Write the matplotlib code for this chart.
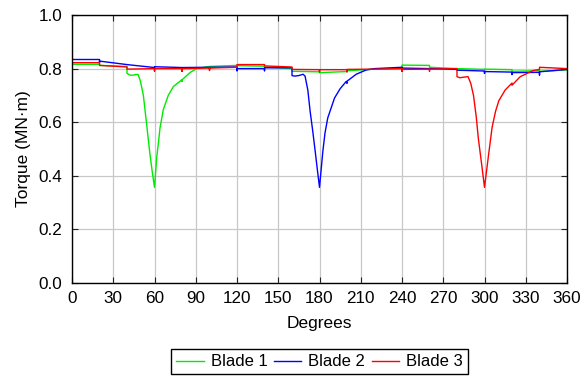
import matplotlib
matplotlib.use("Agg")
import matplotlib.pyplot as plt

plt.rcParams['font.family'] = ['Liberation Sans', 'DejaVu Sans']

# Blade torque over one rotor revolution (degrees, MN·m)
blade1_deg = [0, 20, 20, 40, 40, 42, 44, 46, 48, 49.5, 50.5, 51.9, 53, 54.3, 55.5, 56.7, 58.6, 60,
              61.6, 63, 64, 66.4, 70, 73.7, 79.8, 80, 80, 86, 90.7, 98, 100, 120, 120, 140, 140,
              160, 160, 180, 180, 200, 200, 220, 240, 240, 260, 260, 280, 300, 300, 320, 320, 340, 340, 360]
blade1_val = [0.816, 0.816, 0.812, 0.808, 0.782, 0.776, 0.775, 0.778, 0.778, 0.758, 0.735, 0.70, 0.65, 0.591, 0.535, 0.48, 0.406, 0.357,
              0.469, 0.53, 0.579, 0.647, 0.70, 0.733, 0.758, 0.752, 0.758, 0.786, 0.80, 0.807, 0.808, 0.812, 0.811, 0.809, 0.806,
              0.80, 0.79, 0.788, 0.785, 0.789, 0.792, 0.798, 0.80, 0.813, 0.812, 0.805, 0.80, 0.797, 0.798, 0.796, 0.79, 0.792, 0.790, 0.795]

blade2_deg = [0, 20, 20, 20, 40, 60, 60, 80, 100, 120, 120, 120, 140, 140, 140, 160, 160, 162, 165, 168,
              169.5, 171.5, 173.2, 175, 176.9, 178.5, 180, 182.4, 184, 186, 190.9, 195, 199.4, 200, 200,
              206.7, 214, 220, 240, 240, 260, 280, 280, 300, 300, 300, 320, 320, 320, 340, 340, 340, 360]
blade2_val = [0.834, 0.834, 0.822, 0.828, 0.815, 0.804, 0.807, 0.804, 0.805, 0.806, 0.792, 0.80, 0.80, 0.792, 0.803, 0.803, 0.774, 0.772, 0.774, 0.779,
              0.772, 0.72, 0.64, 0.57, 0.49, 0.42, 0.357, 0.49, 0.56, 0.616, 0.69, 0.725, 0.752, 0.745, 0.753,
              0.779, 0.795, 0.80, 0.805, 0.802, 0.80, 0.797, 0.794, 0.791, 0.782, 0.789, 0.787, 0.778, 0.785, 0.786, 0.776, 0.788, 0.797]

blade3_deg = [0, 20, 20, 40, 40, 60, 60, 60, 80, 80, 80, 100, 100, 100, 120, 120, 140, 140, 160, 160,
              180, 180, 180, 200, 200, 200, 220, 240, 240, 240, 260, 260, 260, 280, 280, 282, 285, 288,
              290, 292, 294, 295.5, 298, 300, 303, 305.5, 308, 310.4, 315, 320, 320, 326, 335.5, 340, 340, 360]
blade3_val = [0.822, 0.822, 0.812, 0.806, 0.798, 0.80, 0.79, 0.80, 0.80, 0.79, 0.80, 0.802, 0.793, 0.802, 0.805, 0.815, 0.815, 0.81, 0.806, 0.797,
              0.796, 0.788, 0.796, 0.796, 0.788, 0.797, 0.798, 0.80, 0.79, 0.797, 0.798, 0.79, 0.798, 0.80, 0.77, 0.766, 0.768, 0.77,
              0.745, 0.70, 0.62, 0.54, 0.44, 0.357, 0.48, 0.58, 0.64, 0.68, 0.72, 0.746, 0.738, 0.77, 0.793, 0.797, 0.805, 0.80]

x_ticks = list(range(0, 361, 30))
y_ticks = [0.0, 0.2, 0.4, 0.6, 0.8, 1.0]

fig = plt.figure(figsize=(5.84, 3.77), dpi=100)
ax = fig.add_axes([0.1233, 0.2493, 0.8476, 0.7109])

ax.plot(blade1_deg, blade1_val, color=(0, 0.92, 0), lw=1.0, label='Blade 1')
ax.plot(blade2_deg, blade2_val, color=(0, 0, 1), lw=1.0, label='Blade 2')
ax.plot(blade3_deg, blade3_val, color=(1, 0, 0), lw=1.0, label='Blade 3')

ax.set_xlim(0, 360)
ax.set_ylim(0, 1.0)
ax.set_xticks(x_ticks)
ax.set_yticks(y_ticks)
ax.set_yticklabels([f'{v:.1f}' for v in y_ticks])
ax.grid(True, color='#c8c8c8', lw=0.9)
ax.set_axisbelow(True)
ax.tick_params(direction='in', length=4, width=0.8, labelsize=12.3, top=True, right=True,
               colors='#222222', labelcolor='black')
ax.tick_params(axis='y', pad=7)
ax.tick_params(axis='x', pad=6)
for s in ax.spines.values():
    s.set_linewidth(1.0)
    s.set_color('black')

ax.set_xlabel('Degrees', fontsize=12.5, labelpad=7)
ax.set_ylabel('Torque (MN·m)', fontsize=12.5, labelpad=5)

leg = fig.legend(loc='upper center', bbox_to_anchor=(0.547, 0.073), ncol=3, fontsize=12,
                 frameon=True, fancybox=False, edgecolor='black', framealpha=1,
                 handlelength=1.65, handletextpad=0.4, columnspacing=0.4, borderpad=0.3,
                 borderaxespad=0)
leg.get_frame().set_linewidth(1.0)

fig.savefig('out.png', dpi=100)
